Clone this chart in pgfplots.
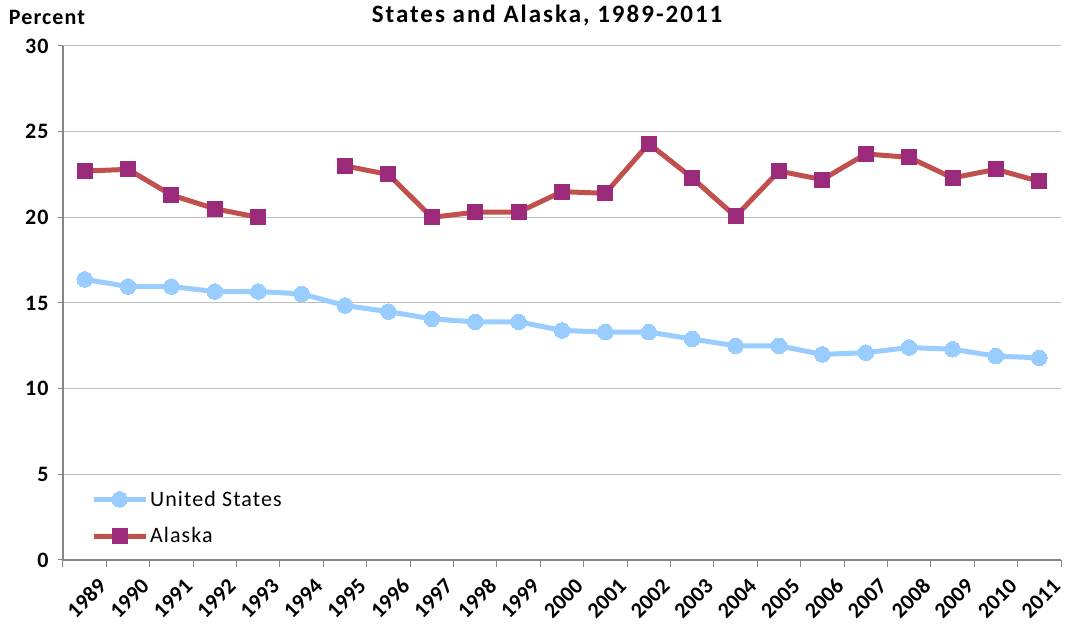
\documentclass[border=0pt]{standalone}
\usepackage{pgfplots}
\pgfplotsset{compat=1.18}
\usepackage{fontspec}
\setmainfont{Carlito}[LetterSpace=5]
\definecolor{usblue}{RGB}{153,204,255}
\definecolor{akline}{RGB}{192,80,77}
\definecolor{akmark}{RGB}{155,43,122}
\definecolor{axgray}{RGB}{134,134,134}
\definecolor{gridgray}{RGB}{190,190,190}
\begin{document}
\begin{tikzpicture}[x=1pt,y=1pt]
\useasboundingbox (-63,-71) rectangle (1002,560);
\begin{axis}[
  scale only axis,
  width=998pt, height=514pt,
  xmin=-0.5, xmax=22.5,
  ymin=0, ymax=30,
  ytick={0,5,...,30},
  xtick={0,...,22},
  xticklabels={1989,1990,1991,1992,1993,1994,1995,1996,1997,1998,1999,2000,2001,2002,2003,2004,2005,2006,2007,2008,2009,2010,2011},
  minor xtick={-0.5,0.5,...,22.5},
  major x tick style={draw=none},
  minor tick length=7pt,
  minor x tick style={axgray, line width=1pt},
  major tick length=5pt,
  y tick style={axgray, line width=1pt},
  tick align=outside,
  axis x line*=bottom,
  axis y line*=left,
  axis line style={axgray, line width=1.2pt, -},
  ymajorgrids,
  grid style={gridgray, line width=1pt},
  x tick label style={rotate=45, anchor=north east, font=\fontsize{22}{26}\selectfont\bfseries\addfontfeature{LetterSpace=0}, inner sep=1pt, yshift=-16pt, xshift=1pt},
  y tick label style={font=\fontsize{22}{26}\selectfont\bfseries, xshift=-6pt},
  /pgf/number format/assume math mode=true,
  unbounded coords=jump,
  legend style={at={(0.025,0.022)}, anchor=south west, draw=none, fill=none,
    font=\fontsize{22}{26}\selectfont, row sep=16pt, cells={anchor=west}},
  legend image code/.code={\draw[mark repeat=2,mark phase=2,#1] plot coordinates {(0pt,0pt) (26pt,0pt) (52pt,0pt)};},
  clip=false,
]
\addplot[usblue, line width=5pt, mark=*, mark size=7.8pt, mark options={fill=usblue, draw=usblue, line width=0pt}]
coordinates {(0,16.38)(1,15.96)(2,15.96)(3,15.67)(4,15.67)(5,15.53)(6,14.85)(7,14.5)(8,14.07)(9,13.9)(10,13.9)(11,13.4)(12,13.3)(13,13.3)(14,12.9)(15,12.5)(16,12.5)(17,12.0)(18,12.1)(19,12.4)(20,12.3)(21,11.9)(22,11.8)};
\addlegendentry{United States}
\addplot[akline, line width=5pt, mark=square*, mark size=7.5pt, mark options={fill=akmark, draw=akmark, line width=0pt}]
coordinates {(0,22.7)(1,22.8)(2,21.3)(3,20.5)(4,20.0)(5,nan)(6,23.0)(7,22.5)(8,20.0)(9,20.3)(10,20.3)(11,21.5)(12,21.4)(13,24.3)(14,22.3)(15,20.05)(16,22.7)(17,22.2)(18,23.7)(19,23.5)(20,22.3)(21,22.8)(22,22.1)};
\addlegendentry{Alaska}
\end{axis}
\node[font=\fontsize{22}{26}\selectfont\bfseries] at (-16,543) {Percent};
\node[font=\fontsize{25}{30}\selectfont\bfseries\addfontfeature{LetterSpace=8}] at (484,545) {States and Alaska, 1989-2011};
\end{tikzpicture}
\end{document}
